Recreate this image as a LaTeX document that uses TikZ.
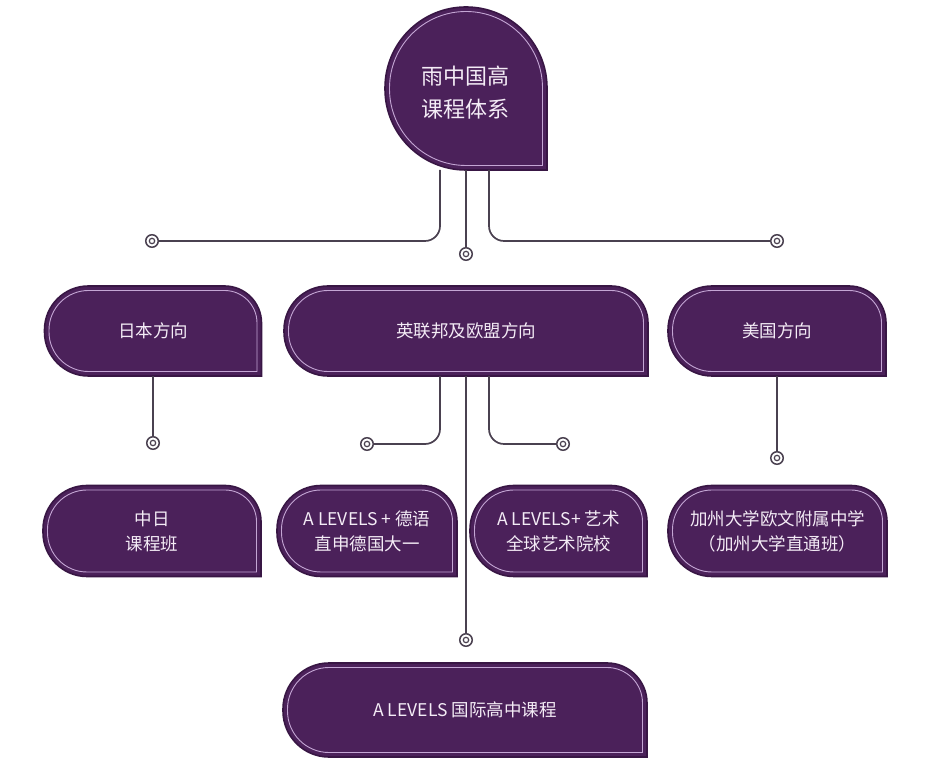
\documentclass[tikz,border=0pt]{standalone}
\usepackage{fontspec}
\setmainfont{Noto Sans CJK SC}
\usetikzlibrary{calc}
\pgfdeclarelayer{bg}
\pgfsetlayers{bg,main}
\definecolor{boxfill}{HTML}{4B215A}
\definecolor{boxedge}{HTML}{381644}
\definecolor{boxinner}{HTML}{C4A6D4}
\definecolor{linecol}{HTML}{4A4150}
\definecolor{txtcol}{HTML}{F4ECF6}
\newcommand\tabshape[4]{%
 ([xshift={(#2)*1pt}, yshift={-(#4)*1pt}]#1.north west)
 -- ([xshift={-(#3)*1pt}, yshift={-(#4)*1pt}]#1.north east)
 arc[start angle=90,end angle=0,radius={(#3-#4)*1pt}]
 -- ([xshift={-(#4)*1pt}, yshift={(#4)*1pt}]#1.south east)
 -- ([xshift={(#2)*1pt}, yshift={(#4)*1pt}]#1.south west)
 arc[start angle=270,end angle=180,radius={(#2-#4)*1pt}]
 -- ([xshift={(#4)*1pt}, yshift={-(#2)*1pt}]#1.north west)
 arc[start angle=180,end angle=90,radius={(#2-#4)*1pt}] -- cycle}
\tikzset{
  tab/.style={inner sep=0pt, outer sep=0pt, text=txtcol, align=center,
    font=\fontsize{17.5}{25}\selectfont},
  marker/.style={circle, draw=linecol, line width=1.5pt, fill=white,
    minimum size=12.5pt, inner sep=0pt,
    path picture={\draw[linecol, line width=1.2pt] (path picture bounding box.center) circle[radius=2.7pt];}},
  conn/.style={draw=linecol, line width=1.7pt, rounded corners=15pt},
}
\begin{document}
\begin{tikzpicture}[x=1pt,y=1pt]
\useasboundingbox (0,0) rectangle (933,776);
% boxes
\node[tab, minimum width=162pt, minimum height=163pt] (top) at (466,687.5) {};
\node[text=txtcol, align=center, font=\fontsize{22}{33}\selectfont, inner sep=0pt] (toptext) at (465.5,683) {雨中国高\\课程体系};
\node[tab, minimum width=217pt, minimum height=90pt] (jp) at (153,445) {日本方向};
\node[tab, minimum width=364pt, minimum height=90pt] (uk) at (466,445) {英联邦及欧盟方向};
\node[tab, minimum width=218pt, minimum height=90pt] (us) at (777,445) {美国方向};
\node[tab, minimum width=218pt, minimum height=91pt] (zr) at (152,245) {中日\\课程班};
\node[tab, minimum width=180pt, minimum height=91pt] (de) at (367,245) {A LEVELS + 德语\\直申德国大一};
\node[tab, minimum width=177pt, minimum height=91pt] (art) at (558.5,245) {A LEVELS+ 艺术\\全球艺术院校};
\node[tab, minimum width=219pt, minimum height=91pt] (ca) at (777.5,245) {加州大学欧文附属中学\\（加州大学直通班）};
\node[tab, minimum width=364pt, minimum height=94pt] (bot) at (465,66) {A LEVELS 国际高中课程};
\begin{pgfonlayer}{bg}
\fill[white] (0,0) rectangle (933,776);
\foreach \n/\rl/\rr in {top/81/81, jp/44/37, uk/44/37, us/44/37, zr/44/36, de/44/36, art/44/36, ca/44/36, bot/46/40} {
  \filldraw[fill=boxfill, draw=boxedge, line width=1.6pt] \tabshape{\n}{\rl}{\rr}{0};
  \draw[boxinner, line width=0.9pt] \tabshape{\n}{\rl}{\rr}{4.5};
}
\end{pgfonlayer}
% markers
\node[marker] (m1) at (152,535) {};
\node[marker] (m2) at (466,522) {};
\node[marker] (m3) at (777,535) {};
\node[marker] (m4) at (153,333) {};
\node[marker] (m5) at (367,332) {};
\node[marker] (m6) at (466,136) {};
\node[marker] (m7) at (563,332) {};
\node[marker] (m8) at (777,318) {};
% connectors
\draw[conn] ([xshift=-26pt]top.south) |- (m1);
\draw[conn] (top.south) -- (m2);
\draw[conn] ([xshift=23pt]top.south) |- (m3);
\draw[conn] (jp.south) -- (m4);
\draw[conn] ([xshift=-26pt]uk.south) |- (m5);
\draw[conn] (uk.south) -- (m6);
\draw[conn] ([xshift=23pt]uk.south) |- (m7);
\draw[conn] (us.south) -- (m8);
\end{tikzpicture}
\end{document}
